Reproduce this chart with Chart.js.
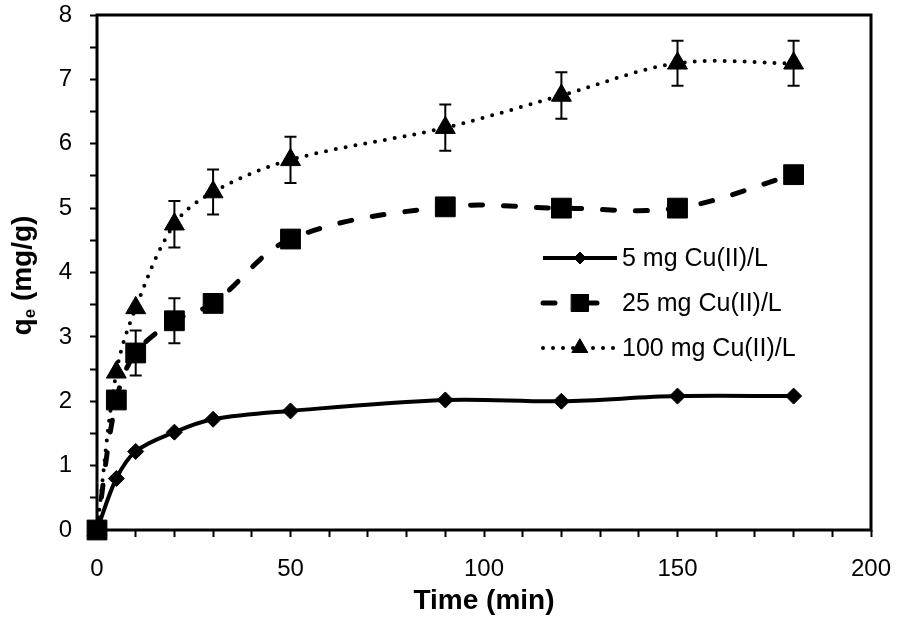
<!DOCTYPE html>
<html><head><meta charset="utf-8">
<script src="https://cdn.jsdelivr.net/npm/chart.js@4.4.0/dist/chart.umd.min.js"></script>
<style>html,body{margin:0;padding:0;background:#fff;} canvas{display:block;}</style>
</head><body>
<canvas id="c" width="899" height="618"></canvas>
<script>
// ---- data ----
const times = [0, 5, 10, 20, 30, 50, 90, 120, 150, 180];
const q5 = [0, 0.80, 1.22, 1.52, 1.72, 1.85, 2.02, 2.00, 2.08, 2.08];
const q25 = [0, 2.02, 2.75, 3.25, 3.52, 4.52, 5.02, 5.00, 5.00, 5.52];
const q100 = [0, 2.45, 3.45, 4.75, 5.25, 5.75, 6.25, 6.75, 7.25, 7.25];
const err25 = [null, null, 0.35, 0.35, null, null, null, null, null, null];
const err100 = [null, null, null, 0.36, 0.35, 0.36, 0.36, 0.36, 0.35, 0.35];
const seriesLabels = ['5 mg Cu(II)/L', '25 mg Cu(II)/L', '100 mg Cu(II)/L'];
const xTickLabels = [0, 50, 100, 150, 200];
const yTickLabels = [0, 1, 2, 3, 4, 5, 6, 7, 8];
const xTitle = 'Time (min)';
const yTitleMain = 'q', yTitleSub = 'e', yTitleRest = ' (mg/g)';

const toPts = (vals) => times.map((t, i) => ({x: t, y: vals[i]}));

const FONT = '"Liberation Sans", Arial, sans-serif';

const datasets = [
  {label: seriesLabels[0], data: toPts(q5), errors: null,
   borderColor: '#000', backgroundColor: '#000', borderWidth: 4, borderDash: [],
   pointStyle: 'rectRot', pointRadius: 8, pointBorderWidth: 1, pointBackgroundColor: '#000', pointBorderColor: '#000',
   tension: 0.35, clip: false, order: 1, legendRadius: 6, legendEnd: 617, legendDash: []},
  {label: seriesLabels[1], data: toPts(q25), errors: err25,
   borderColor: '#000', backgroundColor: '#000', borderWidth: 5, borderDash: [12, 21], borderCapStyle: 'round',
   pointStyle: 'rect', pointRadius: 14, pointBorderWidth: 1, pointBackgroundColor: '#000', pointBorderColor: '#000',
   tension: 0.35, clip: false, order: 0, legendRadius: 12, legendEnd: 597, legendDash: [12, 33]},
  {label: seriesLabels[2], data: toPts(q100), errors: err100,
   borderColor: '#000', backgroundColor: '#000', borderWidth: 4, borderDash: [0, 10], borderCapStyle: 'round',
   pointStyle: 'triangle', pointRadius: 11.5, pointBorderWidth: 1, pointBackgroundColor: '#000', pointBorderColor: '#000',
   tension: 0.35, clip: false, order: 2, legendRadius: 9, legendEnd: 617, legendDash: [0, 10]}
];

const framePlugin = {
  id: 'frame',
  beforeDatasetsDraw(chart) {
    const {ctx, chartArea: a} = chart;
    ctx.save();
    ctx.strokeStyle = '#000';
    ctx.lineWidth = 3;
    ctx.strokeRect(a.left, a.top, a.right - a.left, a.bottom - a.top);
    ctx.restore();
  }
};

const errorBarPlugin = {
  id: 'errorBars',
  afterDatasetsDraw(chart) {
    const {ctx} = chart;
    const xs = chart.scales.x, ys = chart.scales.y;
    ctx.save();
    ctx.strokeStyle = '#000';
    ctx.lineWidth = 2;
    chart.data.datasets.forEach((ds) => {
      if (!ds.errors) return;
      ds.data.forEach((p, i) => {
        const e = ds.errors[i];
        if (e == null) return;
        const px = xs.getPixelForValue(p.x);
        const yt = ys.getPixelForValue(p.y + e);
        const yb = ys.getPixelForValue(p.y - e);
        ctx.beginPath();
        ctx.moveTo(px, yt); ctx.lineTo(px, yb);
        ctx.moveTo(px - 6, yt); ctx.lineTo(px + 6, yt);
        ctx.moveTo(px - 6, yb); ctx.lineTo(px + 6, yb);
        ctx.stroke();
      });
    });
    ctx.restore();
  }
};

const legendPlugin = {
  id: 'customLegend',
  afterDraw(chart) {
    const {ctx} = chart;
    const x0 = 543, xm = 580, tx = 622;
    const rows = [258, 303, 348];
    ctx.save();
    chart.data.datasets.forEach((ds, i) => {
      const y = rows[i];
      ctx.strokeStyle = ds.borderColor;
      ctx.lineWidth = ds.borderWidth;
      ctx.lineCap = ds.borderCapStyle || 'butt';
      ctx.setLineDash(ds.legendDash || []);
      ctx.beginPath();
      ctx.moveTo(x0, y); ctx.lineTo(ds.legendEnd, y);
      ctx.stroke();
      ctx.setLineDash([]);
      ctx.fillStyle = '#000';
      ctx.lineWidth = 1;
      Chart.helpers.drawPoint(ctx, {pointStyle: ds.pointStyle, radius: ds.legendRadius, borderWidth: 1, rotation: 0}, xm, y);
      ctx.fill();
      ctx.fillStyle = '#000';
      ctx.font = '25px ' + FONT;
      ctx.textBaseline = 'middle';
      ctx.textAlign = 'left';
      ctx.fillText(ds.label, tx, y + 1);
    });
    ctx.restore();
  }
};

const yTitlePlugin = {
  id: 'yTitle',
  afterDraw(chart) {
    const {ctx, chartArea: a} = chart;
    const cy = (a.top + a.bottom) / 2 + 3;
    const cx = 23;
    ctx.save();
    ctx.translate(cx, cy);
    ctx.rotate(-Math.PI / 2);
    ctx.fillStyle = '#000';
    ctx.textBaseline = 'middle';
    ctx.textAlign = 'left';
    const fMain = 'bold 28px ' + FONT, fSub = 'bold 17px ' + FONT;
    ctx.font = fMain; const w1 = ctx.measureText(yTitleMain).width; const w3 = ctx.measureText(yTitleRest).width;
    ctx.font = fSub; const w2 = ctx.measureText(yTitleSub).width;
    let x = -(w1 + w2 + w3) / 2;
    ctx.font = fMain; ctx.fillText(yTitleMain, x, 0); x += w1;
    ctx.font = fSub; ctx.fillText(yTitleSub, x, 7); x += w2;
    ctx.font = fMain; ctx.fillText(yTitleRest, x, 0);
    ctx.restore();
  }
};

new Chart(document.getElementById('c'), {
  type: 'line',
  data: {datasets},
  options: {
    responsive: false,
    animation: false,
    devicePixelRatio: 1,
    layout: {padding: {top: 14, right: 28, left: 0, bottom: 0}},
    plugins: {legend: {display: false}, tooltip: {enabled: false}},
    scales: {
      x: {
        type: 'linear', min: 0, max: 200,
        afterFit: (s) => { s.height = 88; s.paddingLeft = 0; s.paddingRight = 0; },
        ticks: {stepSize: 10, autoSkip: false, maxRotation: 0, padding: 18, color: '#000',
                font: {family: FONT, size: 24},
                callback: (v) => xTickLabels.includes(v) ? String(v) : ''},
        grid: {drawOnChartArea: false, drawTicks: true, tickLength: 7, tickColor: '#000', tickWidth: 2},
        border: {display: false},
        title: {display: true, text: xTitle, color: '#000', padding: {top: 0, bottom: 0},
                font: {family: FONT, size: 28, weight: 'bold'}}
      },
      y: {
        type: 'linear', min: 0, max: 8,
        afterFit: (s) => { s.width = 97; s.paddingTop = 0; s.paddingBottom = 0; },
        ticks: {stepSize: 0.5, autoSkip: false, padding: 18, color: '#000',
                font: {family: FONT, size: 24},
                callback: (v) => yTickLabels.includes(v) ? String(v) : ''},
        grid: {drawOnChartArea: false, drawTicks: true, tickLength: 7, tickColor: '#000', tickWidth: 2},
        border: {display: false}
      }
    }
  },
  plugins: [framePlugin, errorBarPlugin, legendPlugin, yTitlePlugin]
});
</script>
</body></html>
